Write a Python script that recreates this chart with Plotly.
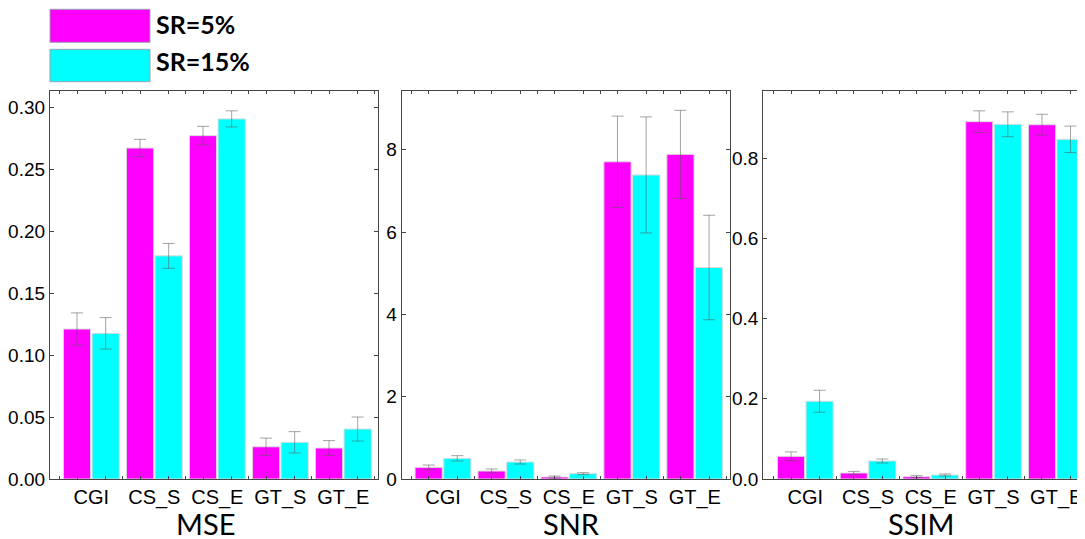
import plotly.graph_objects as go

categories = ["CGI", "CS_S", "CS_E", "GT_S", "GT_E"]
series_names = ["SR=5%", "SR=15%"]

mse_sr5 = [0.121, 0.267, 0.277, 0.026, 0.025]
mse_sr5_err = [0.013, 0.007, 0.0075, 0.007, 0.006]
mse_sr15 = [0.1175, 0.180, 0.2905, 0.0296, 0.0403]
mse_sr15_err = [0.0127, 0.010, 0.0065, 0.0086, 0.0097]

snr_sr5 = [0.283, 0.194, 0.049, 7.71, 7.89]
snr_sr5_err = [0.057, 0.05, 0.024, 1.11, 1.07]
snr_sr15 = [0.502, 0.413, 0.13, 7.39, 5.14]
snr_sr15_err = [0.065, 0.05, 0.024, 1.41, 1.27]

ssim_sr5 = [0.0565, 0.015, 0.0058, 0.8906, 0.883]
ssim_sr5_err = [0.011, 0.004, 0.0025, 0.027, 0.026]
ssim_sr15 = [0.1938, 0.0449, 0.010, 0.884, 0.8466]
ssim_sr15_err = [0.0274, 0.005, 0.0025, 0.031, 0.033]

panel_titles = ["MSE", "SNR", "SSIM"]
y_ranges = [[0, 0.313], [0, 9.43], [0, 0.967]]
y_ticks = [[0, 0.05, 0.10, 0.15, 0.20, 0.25, 0.30], [0, 2, 4, 6, 8], [0, 0.2, 0.4, 0.6, 0.8]]
y_ticktext = [["0.00", "0.05", "0.10", "0.15", "0.20", "0.25", "0.30"],
              ["0", "2", "4", "6", "8"],
              ["0.0", "0.2", "0.4", "0.6", "0.8"]]

colors = ["#FF00FF", "#00FFFF"]
W, H = 1085, 539
OFF = 8  # page body margin: screen px = figure px + OFF


def fx(px):
    return (px - OFF) / W


def fy(py):
    return (H - (py - OFF)) / H


panels = [
    (mse_sr5, mse_sr5_err, mse_sr15, mse_sr15_err),
    (snr_sr5, snr_sr5_err, snr_sr15, snr_sr15_err),
    (ssim_sr5, ssim_sr5_err, ssim_sr15, ssim_sr15_err),
]

# layout geometry (screen pixels)
x_domains_px = [(50, 378), (401.7, 730), (763.3, 1092)]
x_ranges = [[-0.656, 4.55], [-0.656, 4.56], [-0.67, 4.57]]
y_top_px, y_bot_px = 91, 479

xs = list(range(len(categories)))
minor_vals = []
for c in xs:
    minor_vals += [c - 0.5, c - 0.2275, c + 0.2275]
minor_vals.append(xs[-1] + 0.5)

fig = go.Figure()
for i, (a, ae, b, be) in enumerate(panels):
    ax = "" if i == 0 else str(i + 1)
    for vals, errs, name, col in [(a, ae, series_names[0], colors[0]), (b, be, series_names[1], colors[1])]:
        fig.add_trace(go.Bar(
            x=xs, y=vals, name=name, showlegend=False,
            xaxis="x" + ax, yaxis="y" + ax,
            marker=dict(color=col, line=dict(color="#dcdcdc", width=1)),
            error_y=dict(type="data", array=errs, visible=True,
                         color="rgba(90,90,90,0.55)", thickness=1, width=6),
        ))

layout = dict(
    width=W, height=H, margin=dict(l=0, r=0, t=0, b=0),
    paper_bgcolor="white", plot_bgcolor="white",
    barmode="group", bargap=0.09, bargroupgap=0.05,
    font=dict(family="Liberation Sans, Arial", color="black"),
)
y_dom = [fy(y_bot_px), fy(y_top_px)]
for i in range(3):
    ax = "" if i == 0 else str(i + 1)
    x0, x1 = x_domains_px[i]
    layout["xaxis" + ax] = dict(
        domain=[fx(x0), min(fx(x1), 1.0)], range=x_ranges[i], anchor="y" + ax,
        tickmode="array", tickvals=xs, ticktext=categories, ticks="",
        tickfont=dict(size=20, family="Liberation Sans, Arial"),
        showline=True, linecolor="#444", linewidth=1.3, mirror="ticks",
        showgrid=False, zeroline=False, automargin=False,
        minor=dict(tickmode="array", tickvals=minor_vals, ticks="inside",
                   ticklen=3, tickcolor="#444", tickwidth=1),
    )
    layout["yaxis" + ax] = dict(
        domain=y_dom, range=y_ranges[i], anchor="x" + ax,
        tickmode="array", tickvals=y_ticks[i], ticktext=y_ticktext[i],
        ticks="inside", ticklen=4, tickcolor="#444",
        tickfont=dict(size=19, family="Liberation Sans, Arial"),
        showline=True, linecolor="#444", linewidth=1.3, mirror="ticks",
        showgrid=False, zeroline=False, automargin=False, ticklabelstandoff=0,
    )
fig.update_layout(**layout)

# panel titles under each panel
title_x_px = [205, 572, 921]
for t, xp in zip(panel_titles, title_x_px):
    fig.add_annotation(text=t, x=fx(xp), y=fy(523), xref="paper", yref="paper",
                       xanchor="center", yanchor="middle", showarrow=False,
                       font=dict(size=29, family="Lato, Noto Sans", color="black"))

# legend boxes + labels
legend_rows = [(9.3, 42.3), (49.3, 81.7)]
label_centers = [23.5, 61]
for (top, bot), yc, name, col in zip(legend_rows, label_centers, series_names, colors):
    fig.add_shape(type="rect", xref="paper", yref="paper",
                  x0=fx(50), x1=fx(150), y0=fy(bot), y1=fy(top),
                  fillcolor=col, line=dict(color="#9aa0b0", width=1))
    fig.add_annotation(text="<b>" + name + "</b>", x=fx(154), y=fy(yc),
                       xref="paper", yref="paper", xanchor="left", yanchor="middle",
                       showarrow=False, font=dict(size=25, family="Lato, Noto Sans", color="black"))

fig.write_html("out.html")
